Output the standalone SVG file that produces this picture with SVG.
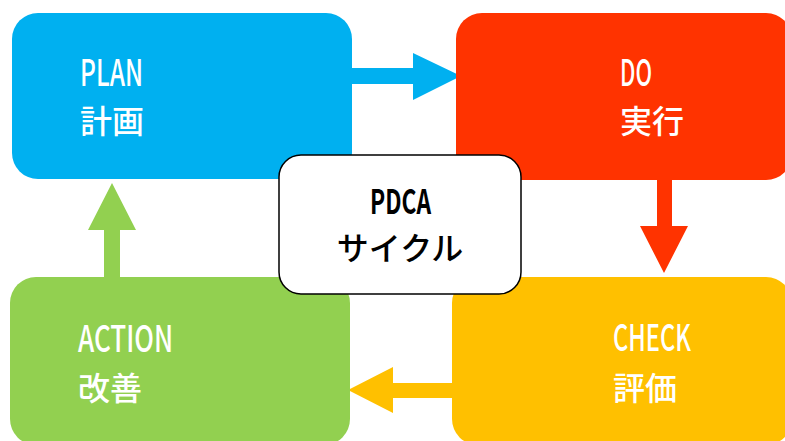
<svg xmlns="http://www.w3.org/2000/svg" width="785" height="441" viewBox="0 0 785 441">
<style>
.lbl{font-family:"Noto Sans CJK JP","Noto Sans",sans-serif;fill:#fff;font-size:32px;font-weight:500}
.lat{font-size:36px}
.ctr{font-family:"Noto Sans CJK JP","Noto Sans",sans-serif;fill:#000;font-weight:500;font-size:32px}
</style>
<rect width="785" height="441" fill="#fff"/>
<g id="connectors">
<polygon points="352,68 413,68 413,53 461,76 413,100 413,84 352,84" fill="#00B0F0"/>
<polygon points="657,180 672,180 672,226 688,226 664,273 640,226 657,226" fill="#FF3300"/>
<polygon points="452,383 393,383 393,367 348,390 393,413 393,398 452,398" fill="#FFC000"/>
<polygon points="104,277 104,230 88,230 112,183 136,230 120,230 120,277" fill="#92D050"/>
</g>
<g id="plan">
<rect x="12" y="13" width="340" height="166" rx="26" fill="#00B0F0"/>
<text class="lbl lat" x="80" y="86" textLength="63" lengthAdjust="spacingAndGlyphs">PLAN</text>
<text class="lbl" x="80" y="133">計画</text>
</g>
<g id="do">
<rect x="456" y="13" width="336" height="167" rx="26" fill="#FF3300"/>
<text class="lbl lat" x="620" y="86" textLength="32" lengthAdjust="spacingAndGlyphs">DO</text>
<text class="lbl" x="620" y="133">実行</text>
</g>
<g id="check">
<rect x="452" y="277" width="340" height="168" rx="26" fill="#FFC000"/>
<text class="lbl lat" x="613" y="351" textLength="78" lengthAdjust="spacingAndGlyphs">CHECK</text>
<text class="lbl" x="613" y="400">評価</text>
</g>
<g id="action">
<rect x="10" y="277" width="340" height="168" rx="26" fill="#92D050"/>
<text class="lbl lat" x="78" y="352" textLength="95" lengthAdjust="spacingAndGlyphs">ACTION</text>
<text class="lbl" x="78" y="400">改善</text>
</g>
<g id="pdca">
<rect x="279" y="155" width="242" height="139" rx="22" fill="#fff" stroke="#000" stroke-width="1.5"/>
<text class="ctr" x="370" y="214" textLength="61" lengthAdjust="spacingAndGlyphs" style="font-size:34px;font-weight:600">PDCA</text>
<text class="ctr" x="400" y="260" text-anchor="middle">サイクル</text>
</g>
</svg>
